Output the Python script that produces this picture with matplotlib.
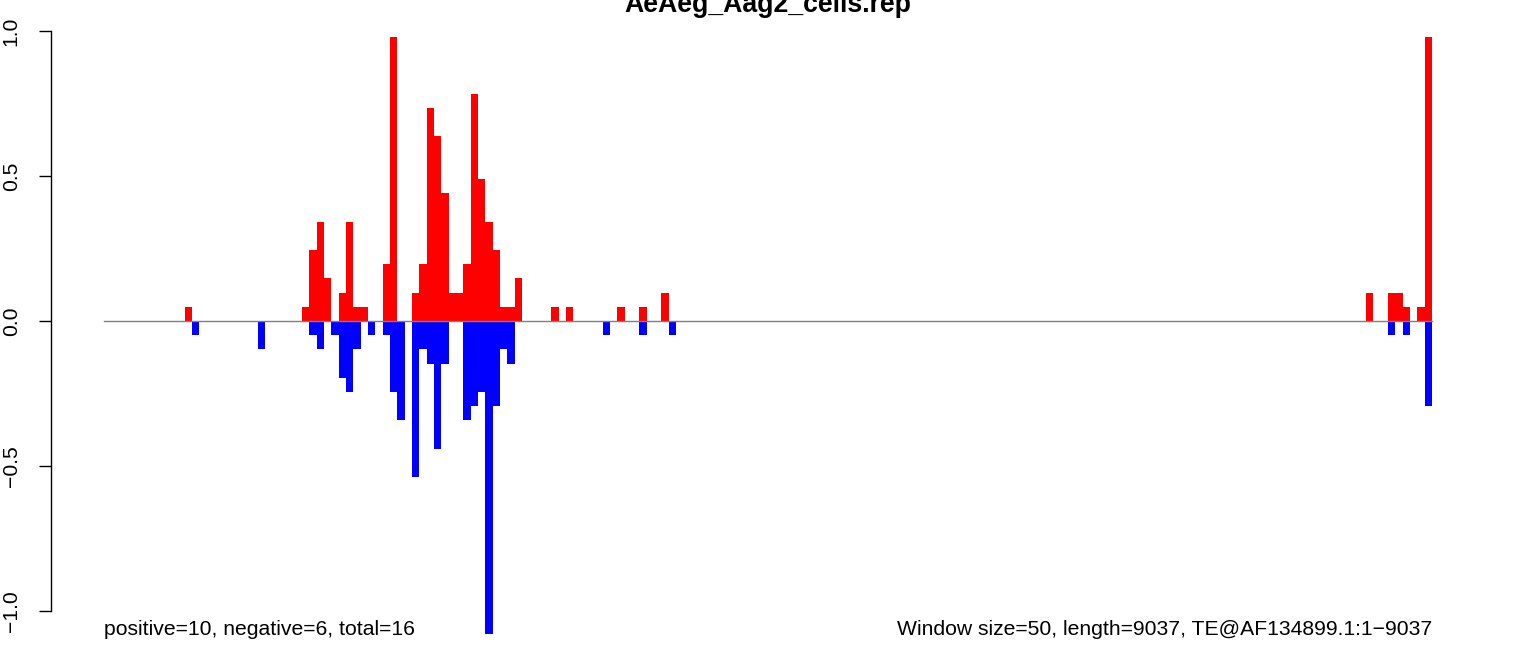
import matplotlib
matplotlib.use("Agg")
import matplotlib.pyplot as plt
import matplotlib.transforms as mtransforms

plt.rcParams['font.family'] = ['Liberation Sans', 'DejaVu Sans']

title = "AeAeg_Aag2_cells.rep"
n_windows = 181
left_note = "positive=10, negative=6, total=16"
right_note = "Window size=50, length=9037, TE@AF134899.1:1\u22129037"

# window index -> value (sense reads)
pos_idx = [11, 27, 28, 29, 30, 32, 33, 34, 35, 38, 39, 42, 43, 44, 45, 46, 47, 48,
           49, 50, 51, 52, 53, 54, 55, 56, 61, 63, 70, 73, 76,
           172, 175, 176, 177, 179, 180]
pos_val = [0.049, 0.049, 0.245, 0.343, 0.147, 0.098, 0.343, 0.049, 0.049, 0.196, 0.98,
           0.098, 0.196, 0.735, 0.637, 0.441, 0.098, 0.098,
           0.196, 0.784, 0.49, 0.343, 0.245, 0.049, 0.049, 0.147, 0.049, 0.049, 0.049, 0.049, 0.098,
           0.098, 0.098, 0.098, 0.049, 0.049, 0.98]

# window index -> value (antisense reads)
neg_idx = [12, 21, 28, 29, 31, 32, 33, 34, 36, 38, 39, 40, 42, 43, 44, 45, 46,
           49, 50, 51, 52, 53, 54, 55, 68, 73, 77, 175, 177, 180]
neg_val = [-0.049, -0.098, -0.049, -0.098, -0.049, -0.196, -0.245, -0.098, -0.049, -0.049,
           -0.245, -0.343, -0.539, -0.098, -0.147, -0.441, -0.147,
           -0.343, -0.294, -0.245, -1.1, -0.294, -0.098, -0.147, -0.049, -0.049, -0.049,
           -0.049, -0.049, -0.294]

W, H = 1536, 650
fig = plt.figure(figsize=(W / 100, H / 100), dpi=100)
ax = fig.add_axes([50.7 / W, (H - 634) / H, (1485 - 50.7) / W, (634 - 8) / H])

ax.bar(pos_idx, pos_val, width=1, align='edge', color='#ff0000', linewidth=0, antialiased=False)
ax.bar(neg_idx, neg_val, width=1, align='edge', color='#0000ff', linewidth=0, antialiased=False)
ax.plot([0, n_windows], [0, 0], color='#7f7f7f', lw=1, zorder=3)

ax.set_xlim(-0.04 * n_windows, 1.04 * n_windows)
ax.set_ylim(-1.08, 1.08)

for s in ['top', 'right', 'bottom']:
    ax.spines[s].set_visible(False)
ax.spines['left'].set_bounds(-1, 1)
ax.spines['left'].set_linewidth(1)
ax.set_xticks([])
ax.set_yticks([-1, -0.5, 0, 0.5, 1])
ax.set_yticklabels(["\u22121.0", "\u22120.5", "0.0", "0.5", "1.0"], rotation=90, va='center')
ax.tick_params(axis='y', length=8.6, width=1, pad=13, labelsize=15.2)

# title sits partly above the figure edge, as in the original R output
fig.text(767.9 / W, (H - 12) / H, title, ha='center', va='baseline',
         fontsize=19.2, fontweight='bold')

trans = mtransforms.blended_transform_factory(ax.transData, fig.transFigure)
ax.text(0, (H - 635) / H, left_note, transform=trans, ha='left', va='baseline', fontsize=15.2)
ax.text(n_windows, (H - 635) / H, right_note, transform=trans, ha='right', va='baseline', fontsize=15.2)

fig.savefig("out.png", dpi=100)
